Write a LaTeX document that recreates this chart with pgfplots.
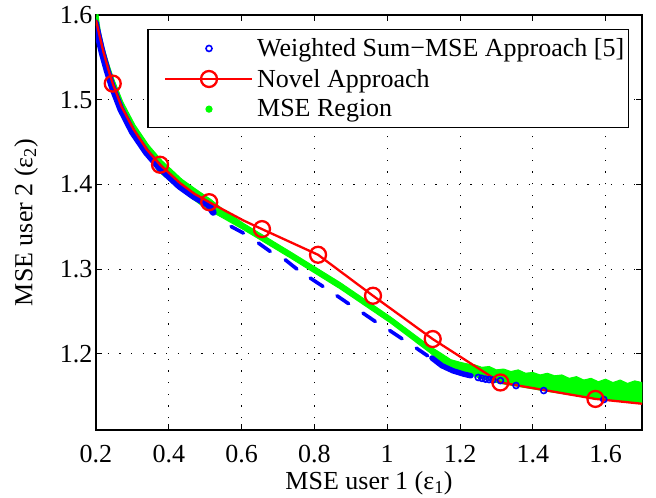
\documentclass[border=0pt]{standalone}
\usepackage{fontspec}
\setmainfont{Liberation Serif}
\usepackage{pgfplots}
\pgfplotsset{compat=1.18}
\definecolor{mred}{rgb}{1,0,0}
\definecolor{mblue}{rgb}{0,0,1}
\definecolor{mgreen}{rgb}{0,1,0}

% novel approach, line
\pgfplotstableread{
x y
0.200 1.594
0.210 1.575
0.220 1.557
0.233 1.537
0.246 1.519
0.270 1.492
0.3026 1.4654
0.340 1.441
0.376 1.4232
0.431 1.4015
0.470 1.389
0.511 1.379
0.605 1.3574
0.656 1.3472
0.810 1.3169
0.961 1.2685
1.125 1.2174
1.311 1.1661
1.450 1.1558
1.572 1.1467
1.700 1.1410
}\novelline

\begin{document}
\begin{tikzpicture}[font=\fontsize{26bp}{31bp}\selectfont]
\path[use as bounding box] (-96bp,-68bp) rectangle (560bp,430bp);
\begin{axis}[
  scale only axis, width=546bp, height=415bp,
  xmin=0.2, xmax=1.7, ymin=1.11, ymax=1.6,
  xtick={0.2,0.4,0.6,0.8,1,1.2,1.4,1.6},
  ytick={1.2,1.3,1.4,1.5,1.6},
  tick align=inside, major tick length=6bp,
  every tick/.style={black, line width=0.8bp},
  axis line style={black, line width=1.3bp},
  grid=major,
  major grid style={black, line width=0.8bp, dash pattern=on 1.2bp off 10.5bp},
  /pgf/number format/assume math mode=true,
  ticklabel style={font=\fontsize{26bp}{31bp}\selectfont},
  xticklabel style={yshift=-12bp},
  label style={font=\fontsize{26bp}{31bp}\selectfont},
  xlabel={MSE user 1 (ε\textsubscript{1})},
  ylabel={MSE user 2 (ε\textsubscript{2})},
  every axis x label/.style={at={(axis description cs:0.5,-0.128)}, anchor=center},
  every axis y label/.style={at={(axis description cs:-0.128,0.5)}, anchor=center, rotate=90},
  unbounded coords=jump,
  legend cell align=left,
  legend style={at={(0.976,0.966)}, anchor=north east, draw=black,
    line width=1.2bp, fill=white, inner xsep=0bp, inner ysep=8bp,
    row sep=9bp,
    nodes={inner ysep=1bp, inner xsep=4bp},
    font=\fontsize{26bp}{31bp}\selectfont},
]
\addlegendimage{legend image code/.code={
  \path[draw=none] (0bp,0bp) -- (105bp,0bp);
  \draw[mblue, line width=1.6bp] (61bp,0bp) circle (3bp);}}
\addlegendentry{Weighted Sum−MSE Approach [5]}
\addlegendimage{legend image code/.code={
  \path[draw=none] (0bp,0bp) -- (105bp,0bp);
  \draw[mred, line width=2.3bp] (17bp,0bp) -- (104bp,0bp);
  \draw[mred, line width=2.3bp] (61bp,0bp) circle (8bp);}}
\addlegendentry{Novel Approach}
\addlegendimage{legend image code/.code={
  \path[draw=none] (0bp,0bp) -- (105bp,0bp);
  \fill[mgreen] (61bp,0bp) circle (3bp);}}
\addlegendentry{MSE Region}

% MSE region
\addplot[fill=mgreen, draw=mgreen, line width=1bp, forget plot] coordinates {
(0.204,1.605) (0.212,1.580) (0.222,1.561) (0.235,1.542) (0.249,1.524)
(0.274,1.497) (0.307,1.470) (0.345,1.446) (0.381,1.428) (0.436,1.406)
(0.475,1.394) (0.516,1.382) (0.55,1.370) (0.605,1.354) (0.7335,1.3205)
(0.871,1.284) (1.0086,1.2437) (1.1186,1.2085) (1.15,1.200) (1.175,1.193)
(1.20,1.190) (1.22,1.188) (1.24,1.187) (1.26,1.184) (1.28,1.185)
(1.30,1.181) (1.32,1.182) (1.34,1.179) (1.36,1.181) (1.38,1.177)
(1.40,1.178) (1.42,1.175) (1.44,1.177) (1.46,1.174) (1.48,1.175)
(1.50,1.171) (1.52,1.173) (1.54,1.169) (1.56,1.171) (1.58,1.167)
(1.60,1.170) (1.62,1.166) (1.64,1.169) (1.66,1.165) (1.68,1.168)
(1.70,1.166)
(1.70,1.142) (1.572,1.147) (1.45,1.155) (1.311,1.165) (1.25,1.172)
(1.20,1.180) (1.15,1.189) (1.1186,1.2009) (1.0086,1.2365) (0.871,1.2766)
(0.7335,1.3133) (0.605,1.3466) (0.55,1.360) (0.50,1.372) (0.43,1.394)
(0.37,1.416) (0.30,1.458) (0.25,1.510) (0.22,1.550) (0.20,1.590)
} -- cycle;

% weighted sum-MSE points
\addplot[mblue, line width=7bp, line cap=round, line join=round, forget plot] coordinates {
(0.198,1.591) (0.208,1.572) (0.218,1.554) (0.231,1.534) (0.244,1.516)
(0.268,1.489) (0.300,1.462) (0.338,1.438) (0.374,1.420) (0.429,1.398)
(0.468,1.386) (0.509,1.376) (0.522,1.367)
};
\addplot[mblue, line width=3.6bp, line cap=round, forget plot] coordinates {
(0.571,1.3503) (0.605,1.3425) (0.62,nan)
(0.6464,1.3307) (0.6786,1.3208) (0.70,nan)
(0.7198,1.3110) (0.752,1.3000) (0.77,nan)
(0.7886,1.2894) (0.8235,1.2795) (0.84,nan)
(0.862,1.2685) (0.894,1.2591) (0.91,nan)
(0.9335,1.2480) (0.9673,1.2381) (0.98,nan)
(1.0067,1.2275) (1.0408,1.2177) (1.06,nan)
(1.080,1.2067) (1.111,1.1976)
};
\addplot[mblue, line width=5.5bp, line cap=round, line join=round, forget plot] coordinates {
(1.123,1.195) (1.15,1.186) (1.18,1.180) (1.21,1.176) (1.23,1.174)
};
\addplot[mblue, only marks, mark=o, mark size=3bp, mark options={line width=1.6bp}, forget plot] coordinates {
(1.25,1.172) (1.26,1.171) (1.27,1.170) (1.28,1.1695) (1.29,1.169)
(1.311,1.1683) (1.354,1.1625) (1.430,1.1566) (1.595,1.146)
};

% novel approach
\addplot[mred, line width=2.3bp, forget plot] table[x=x, y=y] {\novelline};
\addplot[mred, only marks, mark=o, mark size=8bp, mark options={line width=2.3bp}, forget plot] coordinates {
(0.246,1.519) (0.376,1.4232) (0.511,1.379) (0.656,1.3472) (0.810,1.3169)
(0.961,1.2685) (1.125,1.2174) (1.311,1.1661) (1.572,1.1467)
};
\end{axis}
\end{tikzpicture}
\end{document}
